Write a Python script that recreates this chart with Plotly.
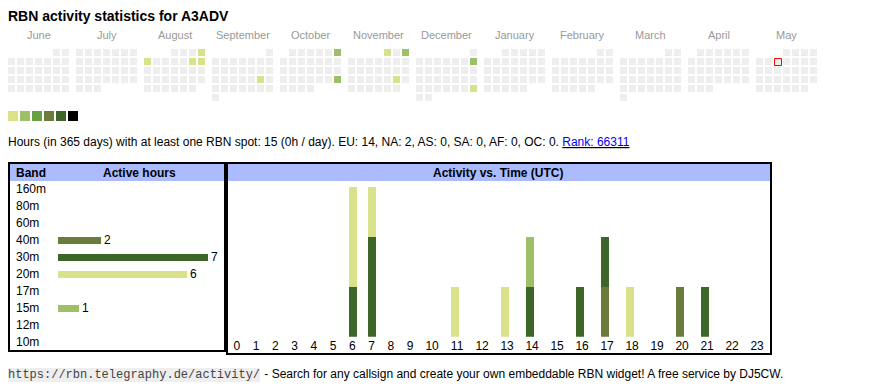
import calendar
import datetime as dt
import plotly.graph_objects as go

# ---------------- data ----------------
CALLSIGN = "A3ADV"
MONTH_NAMES = ["June", "July", "August", "September", "October", "November",
               "December", "January", "February", "March", "April", "May"]
START_YEAR, START_MONTH = 2024, 6
TODAY = "2025-05-07"

ACTIVE_DAYS = ["2024-08-04", "2024-08-05", "2024-08-10", "2024-08-11",
               "2024-09-21", "2024-10-06", "2024-10-27", "2024-11-01",
               "2024-11-03", "2024-11-23", "2024-12-08", "2024-12-29"]
ACTIVE_LEVELS = [1, 1, 1, 1, 1, 2, 2, 1, 2, 1, 2, 1]
LEVEL_COLORS = ["#eeeeee", "#d9e18a", "#9dbf67", "#68a044", "#6a7c3b", "#3d6628", "#000000"]

BANDS = ["160m", "80m", "60m", "40m", "30m", "20m", "17m", "15m", "12m", "10m"]
BAND_HOURS = [0, 0, 0, 2, 7, 6, 0, 1, 0, 0]
BAND_COLORS = {"40m": "#6a7c3b", "30m": "#3d6628", "20m": "#d9e18a", "15m": "#9dbf67"}

HOURS = list(range(24))
HOURS_40M = [0, 0, 0, 0, 0, 0, 0, 0, 0, 0, 0, 0, 0, 0, 0, 0, 0, 1, 0, 0, 1, 0, 0, 0]
HOURS_30M = [0, 0, 0, 0, 0, 0, 1, 2, 0, 0, 0, 0, 0, 0, 1, 0, 1, 1, 0, 0, 0, 1, 0, 0]
HOURS_20M = [0, 0, 0, 0, 0, 0, 2, 1, 0, 0, 0, 1, 0, 1, 0, 0, 0, 0, 1, 0, 0, 0, 0, 0]
HOURS_15M = [0, 0, 0, 0, 0, 0, 0, 0, 0, 0, 0, 0, 0, 0, 1, 0, 0, 0, 0, 0, 0, 0, 0, 0]
HOURLY = [("40m", HOURS_40M), ("30m", HOURS_30M), ("20m", HOURS_20M), ("15m", HOURS_15M)]

SPOT_HOURS = 15
PER_DAY = "0h"
CONTINENTS = ["EU", "NA", "AS", "SA", "AF", "OC"]
CONTINENT_HOURS = [14, 2, 0, 0, 0, 0]
RANK = 66311
URL = "https://rbn.telegraphy.de/activity/"
FOOTER = " - Search for any callsign and create your own embeddable RBN widget! A free service by DJ5CW."

# ---------------- layout constants ----------------
W, H = 870, 390
FONT = "Liberation Sans, Arial, Helvetica, sans-serif"
MONO = "Liberation Mono, Courier New, monospace"
CELL, PITCH, MONTH_W = 7, 9, 68
CAL_X0, CAL_Y0 = 8, 49
HEADER_BLUE = "#aabbff"
TIGHT = dict(borderpad=0, borderwidth=0)


def py(v):  # pixel y (from top) -> paper fraction
    return 1 - v / H


fig = go.Figure()

# ---------------- calendar ----------------
levels = dict(zip(ACTIVE_DAYS, ACTIVE_LEVELS))
cx, cy, cc = [], [], []
today_xy = None
month_centers = []
for m in range(12):
    y_ = START_YEAR + (START_MONTH - 1 + m) // 12
    mo = (START_MONTH - 1 + m) % 12 + 1
    first = dt.date(y_, mo, 1)
    fw = first.weekday()
    ndays = calendar.monthrange(y_, mo)[1]
    bx = CAL_X0 + MONTH_W * m
    month_centers.append(bx + (6 * PITCH + CELL) / 2)
    for d in range(1, ndays + 1):
        idx = fw + d - 1
        col, row = idx % 7, idx // 7
        x = bx + PITCH * col + CELL / 2
        yy = CAL_Y0 + PITCH * row + CELL / 2
        key = dt.date(y_, mo, d).isoformat()
        cx.append(x)
        cy.append(yy)
        cc.append(LEVEL_COLORS[levels.get(key, 0)])
        if key == TODAY:
            today_xy = (x, yy)

fig.add_trace(go.Scatter(x=cx, y=cy, mode="markers", xaxis="x", yaxis="y",
                         marker=dict(symbol="square", size=CELL, color=cc, line=dict(width=0)),
                         hoverinfo="skip", showlegend=False))
if today_xy:
    fig.add_trace(go.Scatter(x=[today_xy[0] + 0.5], y=[today_xy[1] + 0.5], mode="markers",
                             xaxis="x", yaxis="y",
                             marker=dict(symbol="square-open", size=CELL, color="#ff0000",
                                         line=dict(width=1, color="#ff0000")),
                             hoverinfo="skip", showlegend=False))

# legend swatches
fig.add_trace(go.Scatter(x=[13 + 12 * i for i in range(6)], y=[116] * 6, mode="markers",
                         xaxis="x", yaxis="y",
                         marker=dict(symbol="square", size=10, color=LEVEL_COLORS[1:], line=dict(width=0)),
                         hoverinfo="skip", showlegend=False))

annotations = []
annotations.append(dict(x=8, y=16, xref="x", yref="y", xanchor="left", yanchor="middle",
                        text=f"<b>RBN activity statistics for {CALLSIGN}</b>", showarrow=False,
                        font=dict(family=FONT, size=14, color="#000"), **TIGHT))
for name, mx in zip(MONTH_NAMES, month_centers):
    annotations.append(dict(x=mx, y=35, xref="x", yref="y", xanchor="center", yanchor="middle",
                            text=name, showarrow=False, font=dict(family=FONT, size=11, color="#999999")))

cont = ", ".join(f"{c}: {v}" for c, v in zip(CONTINENTS, CONTINENT_HOURS))
info = (f"Hours (in 365 days) with at least one RBN spot: {SPOT_HOURS} ({PER_DAY} / day). {cont}. "
        f"<u><span style='color:#0000ee'>Rank: {RANK}</span></u>")
annotations.append(dict(x=8, y=142, xref="x", yref="y", xanchor="left", yanchor="middle",
                        text=info, showarrow=False, font=dict(family=FONT, size=12, color="#000"), **TIGHT))

# ---------------- band table ----------------
fig.add_trace(go.Bar(y=BANDS, x=BAND_HOURS, orientation="h", xaxis="x2", yaxis="y2",
                     width=7 / 17,
                     marker=dict(color=[BAND_COLORS.get(b, "#ffffff") for b in BANDS], line=dict(width=0)),
                     text=[str(v) if v else "" for v in BAND_HOURS], textposition="outside",
                     constraintext="none",
                     textfont=dict(family=FONT, size=12, color="#000"), cliponaxis=False,
                     hoverinfo="skip", showlegend=False))
for b in BANDS:
    annotations.append(dict(x=16 / W, y=b, xref="paper", yref="y2", xanchor="left", yanchor="middle",
                            text=b, showarrow=False, font=dict(family=FONT, size=12, color="#000"), **TIGHT))
annotations.append(dict(x=16, y=173, xref="x", yref="y", xanchor="left", yanchor="middle",
                        text="<b>Band</b>", showarrow=False, font=dict(family=FONT, size=12, color="#000"),
                        **TIGHT))
annotations.append(dict(x=139.5, y=173, xref="x", yref="y", xanchor="center", yanchor="middle",
                        text="<b>Active hours</b>", showarrow=False, font=dict(family=FONT, size=12, color="#000")))

# ---------------- hourly chart ----------------
HX0 = 227.1
col_w = [13.5 + 5.75 * len(str(h)) for h in HOURS]
col_left, acc = [], HX0
for w in col_w:
    col_left.append(acc)
    acc += w
HX1 = acc
bar_x = [l + 10 for l in col_left]
label_x = [l + w / 2 for l, w in zip(col_left, col_w)]
max_total = max(sum(v[i] for _, v in HOURLY) for i in range(24))
UNIT_PX = 50
H_BOTTOM = 336.7

for band, vals in HOURLY:
    fig.add_trace(go.Bar(x=bar_x, y=vals, width=8, xaxis="x3", yaxis="y3",
                         marker=dict(color=BAND_COLORS[band], line=dict(width=0)),
                         hoverinfo="skip", showlegend=False, name=band))
annotations.append(dict(x=(HX0 + HX1) / 2, y=173, xref="x", yref="y", xanchor="center", yanchor="middle",
                        text="<b>Activity vs. Time (UTC)</b>", showarrow=False,
                        font=dict(family=FONT, size=12, color="#000")))

shapes = [
    dict(type="rect", xref="x", yref="y", x0=10, x1=224, y0=164, y1=181, fillcolor=HEADER_BLUE,
         line=dict(width=0), layer="below"),
    dict(type="rect", xref="x", yref="y", x0=228, x1=770, y0=164, y1=181, fillcolor=HEADER_BLUE,
         line=dict(width=0), layer="below"),
    dict(type="rect", xref="x", yref="y", x0=9, x1=225, y0=163, y1=351,
         line=dict(width=2, color="#000"), layer="above"),
    dict(type="rect", xref="x", yref="y", x0=227, x1=771, y0=163, y1=354,
         line=dict(width=2, color="#000"), layer="above"),
]

# ---------------- footer ----------------
annotations.append(dict(x=8, y=374.5, xref="x", yref="y", xanchor="left", yanchor="middle",
                        text=URL, showarrow=False, bgcolor="#eeeeee", borderpad=0, borderwidth=0,
                        font=dict(family=MONO, size=12, color="#444444")))
annotations.append(dict(x=8 + len(URL) * 7.2 + 1, y=374, xref="x", yref="y", xanchor="left", yanchor="middle",
                        text=FOOTER.replace(" ", "&nbsp;", 1), showarrow=False,
                        font=dict(family=FONT, size=12, color="#000"), **TIGHT))

fig.update_layout(
    width=W, height=H, margin=dict(l=0, r=0, t=0, b=0),
    paper_bgcolor="#ffffff", plot_bgcolor="rgba(0,0,0,0)",
    barmode="stack", bargap=0, showlegend=False, hovermode=False,
    font=dict(family=FONT, size=12, color="#000"),
    xaxis=dict(domain=[0, 1], range=[0, W], visible=False, fixedrange=True),
    yaxis=dict(domain=[0, 1], range=[H, 0], visible=False, fixedrange=True),
    xaxis2=dict(domain=[58 / W, 208 / W], range=[0, max(BAND_HOURS)], visible=False, anchor="y2",
                fixedrange=True),
    yaxis2=dict(domain=[py(350.5), py(180.5)], type="category", categoryorder="array",
                categoryarray=BANDS, range=[len(BANDS) - 0.5, -0.5], visible=False, anchor="x2",
                fixedrange=True),
    xaxis3=dict(domain=[HX0 / W, HX1 / W], range=[HX0, HX1], anchor="y3", tickmode="array",
                tickvals=label_x, ticktext=[str(h) for h in HOURS], showgrid=False, zeroline=False,
                showline=False, ticks="", tickfont=dict(family=FONT, size=12, color="#000"),
                fixedrange=True),
    yaxis3=dict(domain=[py(H_BOTTOM), py(H_BOTTOM - UNIT_PX * max_total)], range=[0, max_total],
                visible=False, anchor="x3", fixedrange=True),
    shapes=shapes, annotations=annotations,
)

fig.write_html("out.html", include_plotlyjs=True, config={"displayModeBar": False},
               post_script="document.body.style.margin='0';document.body.style.overflow='hidden';")
